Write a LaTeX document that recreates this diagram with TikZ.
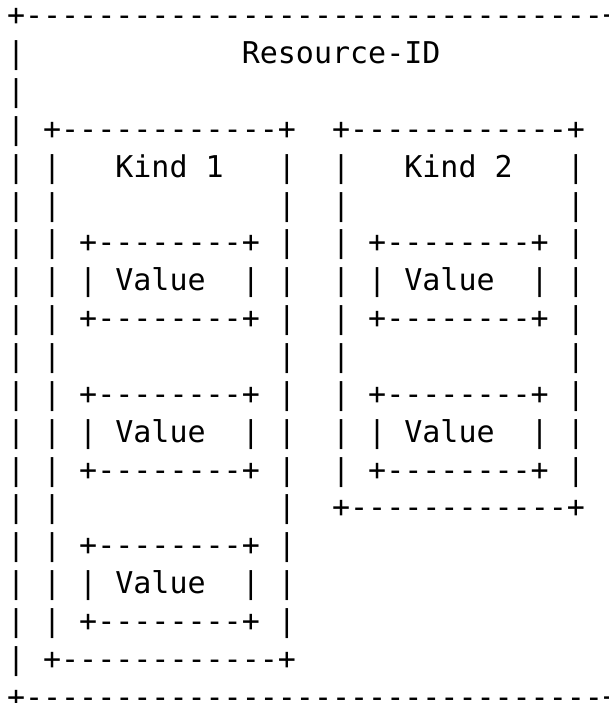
\documentclass[tikz,border=0pt]{standalone}
\usepackage{fontspec}
\setmonofont{DejaVu Sans Mono}
\tikzset{
  asciirow/.style={anchor=base west, inner sep=0pt, outer sep=0pt,
    font=\ttfamily\fontsize{30.0}{37.85}\selectfont, text=black}
}
\begin{document}
\begin{tikzpicture}[x=1pt,y=1pt]
\fill[white] (0,0) rectangle (608,-703);
\useasboundingbox (0,0) rectangle (608,-703);
\clip (0,0) rectangle (608,-703);
\foreach \r/\txt in {
 0/{+--------------------------------+},
 1/{|~~~~~~~~~~~~Resource-ID},
 2/{|},
 3/{|~+------------+~~+------------+},
 4/{|~|~~~Kind~1~~~|~~|~~~Kind~2~~~|},
 5/{|~|~~~~~~~~~~~~|~~|~~~~~~~~~~~~|},
 6/{|~|~+--------+~|~~|~+--------+~|},
 7/{|~|~|~Value~~|~|~~|~|~Value~~|~|},
 8/{|~|~+--------+~|~~|~+--------+~|},
 9/{|~|~~~~~~~~~~~~|~~|~~~~~~~~~~~~|},
 10/{|~|~+--------+~|~~|~+--------+~|},
 11/{|~|~|~Value~~|~|~~|~|~Value~~|~|},
 12/{|~|~+--------+~|~~|~+--------+~|},
 13/{|~|~~~~~~~~~~~~|~~+------------+},
 14/{|~|~+--------+~|},
 15/{|~|~|~Value~~|~|},
 16/{|~|~+--------+~|},
 17/{|~+------------+},
 18/{+--------------------------------+}}
{
  \node[asciirow] (row\r) at (7,{-25.8-37.85*\r}) {\txt};
}
\end{tikzpicture}
\end{document}
